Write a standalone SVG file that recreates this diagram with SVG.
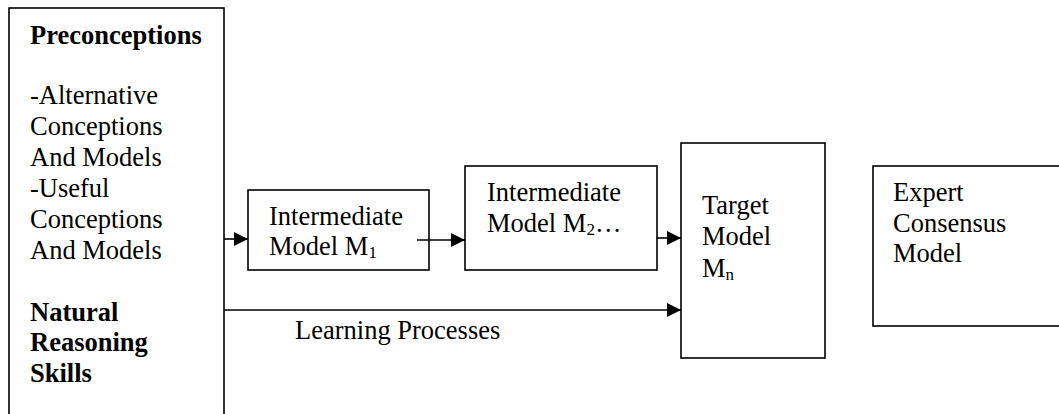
<svg xmlns="http://www.w3.org/2000/svg" width="1059" height="414" viewBox="0 0 1059 414">
<style>
.box{fill:#fff;stroke:#000;stroke-width:1.6}
.t{font-family:"Liberation Serif","Times New Roman",serif;font-size:26.5px;fill:#000}
.b{font-weight:bold}
.c{stroke:#000;stroke-width:1.6;fill:none}
</style>
<defs>
<marker id="ah" viewBox="0 0 14 14" refX="14" refY="7" markerWidth="14" markerHeight="14" markerUnits="userSpaceOnUse" orient="auto">
<path d="M0,0 L14,7 L0,14 Z" fill="#000"/>
</marker>
</defs>
<rect width="1059" height="414" fill="#fff"/>
<g id="preconceptions">
<rect class="box" x="9" y="8" width="215" height="420"/>
<text class="t b" x="30" y="44">Preconceptions</text>
<text class="t" x="30" y="104">-Alternative</text>
<text class="t" x="30" y="135">Conceptions</text>
<text class="t" x="30" y="166">And Models</text>
<text class="t" x="30" y="197">-Useful</text>
<text class="t" x="30" y="228">Conceptions</text>
<text class="t" x="30" y="259">And Models</text>
<text class="t b" x="30" y="321">Natural</text>
<text class="t b" x="30" y="351">Reasoning</text>
<text class="t b" x="30" y="382">Skills</text>
</g>
<g id="m1">
<rect class="box" x="248" y="190" width="181" height="80"/>
<text class="t" x="269" y="225">Intermediate</text>
<text class="t" x="269" y="255">Model M<tspan font-size="17" dy="3">1</tspan></text>
</g>
<g id="m2">
<rect class="box" x="465" y="166" width="192" height="104"/>
<text class="t" x="487" y="201">Intermediate</text>
<text class="t" x="487" y="232">Model M<tspan font-size="17" dy="3">2</tspan><tspan dy="-3">…</tspan></text>
</g>
<g id="target">
<rect class="box" x="681" y="143" width="144" height="215"/>
<text class="t" x="702" y="214">Target</text>
<text class="t" x="702" y="245">Model</text>
<text class="t" x="702" y="277">M<tspan font-size="17" dy="3">n</tspan></text>
</g>
<g id="expert">
<rect class="box" x="873" y="166" width="200" height="160"/>
<text class="t" x="893" y="201">Expert</text>
<text class="t" x="893" y="232">Consensus</text>
<text class="t" x="893" y="262">Model</text>
</g>
<g id="connectors">
<line class="c" x1="224" y1="239" x2="248" y2="239" marker-end="url(#ah)"/>
<line class="c" x1="417" y1="240" x2="465" y2="240" marker-end="url(#ah)"/>
<line class="c" x1="657" y1="238" x2="681" y2="238" marker-end="url(#ah)"/>
<line class="c" x1="224" y1="310" x2="681" y2="310" marker-end="url(#ah)"/>
<text class="t" x="295" y="339">Learning Processes</text>
</g>
</svg>
